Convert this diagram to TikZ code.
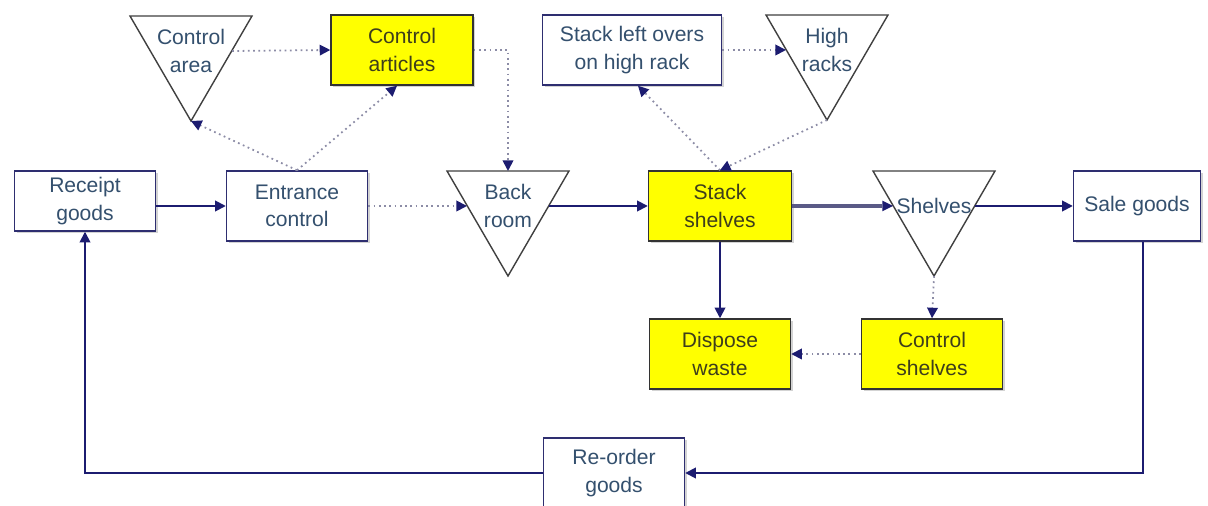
\documentclass[tikz,border=0pt]{standalone}
\usepackage{fontspec}
\setmainfont{Liberation Sans}
\usetikzlibrary{arrows.meta,shadows}

\definecolor{flowline}{HTML}{1C1C70}
\definecolor{boxline}{HTML}{2E2E70}
\definecolor{boxtext}{HTML}{34506E}
\definecolor{acttext}{HTML}{3E3E1C}
\definecolor{actfill}{HTML}{FFFF00}
\definecolor{checkline}{HTML}{8C8CA6}
\definecolor{thickline}{HTML}{5A5A86}

\tikzset{
  proc/.style={draw=boxline, line width=0.85pt, fill=white, text=boxtext, align=center,
    minimum width=2.82cm, minimum height=1.4cm, inner sep=2pt,
    font=\fontsize{12}{15.5}\selectfont,
    drop shadow={shadow xshift=1.2pt, shadow yshift=-1.2pt, opacity=0.35}},
  act/.style={proc, draw=black!80, fill=actfill, text=acttext},
  storetri/.style={draw=black!75, line width=0.8pt, fill=white},
  storetext/.style={text=boxtext, align=center, inner sep=0pt, font=\fontsize{12}{15.5}\selectfont},
  flow/.style={draw=flowline, line width=1pt, -{Triangle[length=6pt,width=6pt]}},
  check/.style={draw=checkline, dotted, line width=1pt, -{Triangle[length=6pt,width=6pt,color=flowline]}}
}

\begin{document}
\begin{tikzpicture}[x=0.02cm, y=-0.02cm]
  \useasboundingbox (0,0) rectangle (1208,506);

  % storage points (triangles)
  \foreach \n/\x/\y/\t in {ctrlarea/191/16/{Control\\area}, backroom/508/171/{Back\\room},
                           highracks/827/15/{High\\racks}, shelves/934/171/{Shelves}}
  {
    \draw[storetri] (\x-61,\y) -- (\x+61,\y) -- (\x,\y+105) -- cycle;
    \coordinate (\n-s) at (\x,\y+105);
    \coordinate (\n-n) at (\x,\y);
    \coordinate (\n-w) at (\x-41,\y+35);
    \coordinate (\n-e) at (\x+41,\y+35);
    \node[storetext] (\n) at (\x,\y+35) {\t};
  }

  % activities
  \node[proc, minimum height=1.2cm] (receipt) at (85,201) {Receipt\\goods};
  \node[proc] (entrance) at (297,206) {Entrance\\control};
  \node[act, minimum width=2.84cm] (ctrlart) at (402,50) {Control\\articles};
  \node[proc, minimum width=3.58cm] (leftovers) at (632,50) {Stack left overs\\on high rack};
  \node[act, minimum width=2.86cm] (stack) at (720,206) {Stack\\shelves};
  \node[proc, minimum width=2.54cm] (sale) at (1137,206) {Sale goods};
  \node[act] (dispose) at (720,354) {Dispose\\waste};
  \node[act] (ctrlshelves) at (932,354) {Control\\shelves};
  \node[proc] (reorder) at (614,473) {Re-order\\goods};

  % main flow
  \draw[flow] (entrance.west -| receipt.east) -- (entrance.west);
  \draw[check] (entrance.east) -- (backroom-w);
  \draw[flow] (backroom-e) -- (stack.west);
  \draw[flow, line width=2pt, draw=thickline, -{Triangle[length=6pt,width=6pt,line width=0pt,color=flowline]}] (stack.east) -- (shelves-w);
  \draw[flow] (shelves-e) -- (sale.west);
  \draw[flow] (stack.south) -- (dispose.north);
  \draw[flow] ([xshift=0.12cm]sale.south) |- (reorder.east);
  \draw[flow] (reorder.west) -| (receipt.south);

  % controls
  \draw[check] (entrance.north) -- (ctrlarea-s);
  \draw[check] (entrance.north) -- ([xshift=-0.1cm]ctrlart.south);
  \draw[check] (ctrlarea-e) -- (ctrlart.west);
  \draw[check] (ctrlart.east) -| (backroom-n);
  \draw[check] (stack.north) -- ([xshift=0.12cm]leftovers.south);
  \draw[check] (highracks-s) -- (stack.north);
  \draw[check] (leftovers.east) -- (highracks-w);
  \draw[check] (shelves-s) -- (ctrlshelves.north);
  \draw[check] (ctrlshelves.west) -- (dispose.east);
\end{tikzpicture}
\end{document}
